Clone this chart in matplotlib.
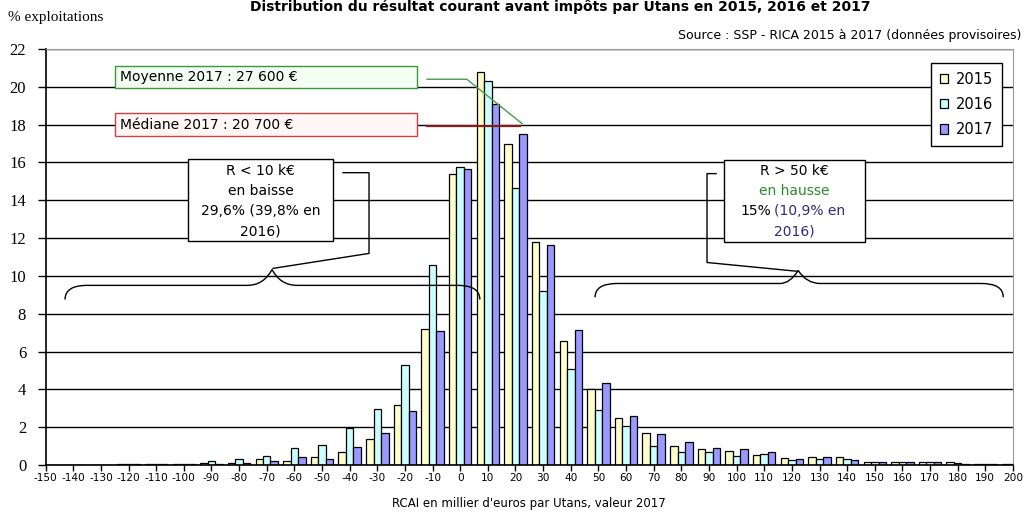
import matplotlib
matplotlib.use("Agg")
import matplotlib.pyplot as plt
import numpy as np
from matplotlib.patches import Rectangle, PathPatch
from matplotlib.path import Path

# Classes de RCAI (milliers d'euros par Utans), une classe tous les 10
categories = list(range(-150, 201, 10))
tick_labels = [str(c) for c in categories]

# % d'exploitations par classe
v2015 = [0, 0, 0, 0.05, 0.05, 0.05, 0.12, 0.12, 0.3, 0.2, 0.45, 0.7, 1.35, 3.2, 7.2,
         15.4, 20.8, 17.0, 11.8, 6.55, 4.0, 2.5, 1.67, 1.0, 0.87, 0.73, 0.55, 0.38,
         0.4, 0.43, 0.15, 0.15, 0.15, 0.15, 0.06, 0.06]
v2016 = [0, 0, 0, 0.05, 0.05, 0.06, 0.2, 0.3, 0.46, 0.9, 1.05, 1.95, 2.95, 5.3, 10.6,
         15.75, 20.3, 14.65, 9.2, 5.1, 2.9, 2.05, 1.03, 0.7, 0.7, 0.46, 0.59, 0.28,
         0.32, 0.32, 0.14, 0.14, 0.15, 0.1, 0.06, 0.06]
v2017 = [0, 0, 0, 0.05, 0.05, 0.05, 0.05, 0.1, 0.2, 0.4, 0.3, 0.95, 1.7, 2.85, 7.1,
         15.65, 19.1, 17.5, 11.65, 7.15, 4.35, 2.58, 1.65, 1.23, 0.9, 0.83, 0.71, 0.32,
         0.43, 0.27, 0.15, 0.15, 0.15, 0.05, 0.06, 0.06]
years = ["2015", "2016", "2017"]
colors = ["#FFFFCC", "#CCFFFF", "#9999FF"]

fig = plt.figure(figsize=(10.31, 5.19), dpi=100)
ax = fig.add_axes([0.0443, 0.104, 0.9382, 0.8016])

x = np.array(categories, dtype=float)
w = 2.7
for i, (vals, col, lab) in enumerate(zip([v2015, v2016, v2017], colors, years)):
    ax.bar(x + (i - 1) * w, vals, w, color=col, edgecolor="black", linewidth=0.9,
           label=lab, zorder=2)

ax.set_xlim(-150, 200)
ax.set_ylim(0, 22)
ax.set_xticks(categories)
ax.set_xticklabels(tick_labels, fontsize=7.6)
ax.set_yticks(range(0, 23, 2))
ax.set_yticklabels([str(v) for v in range(0, 23, 2)], fontsize=12,
                   family="Liberation Serif")
ax.tick_params(axis="y", length=6, width=1, pad=8)
ax.tick_params(axis="x", length=4, width=1, pad=2)
ax.yaxis.grid(True, color="black", linewidth=1)
ax.set_axisbelow(True)
for s in ["top", "right"]:
    ax.spines[s].set_color("#999999")
for s in ["left", "bottom"]:
    ax.spines[s].set_linewidth(1.2)

ax.set_xlabel("RCAI en millier d'euros par Utans, valeur 2017", fontsize=8.5,
              labelpad=10)

fig.text(0.543, 1 - 11 / 519, "Distribution du résultat courant avant impôts par Utans en 2015, 2016 et 2017",
         ha="center", va="baseline", fontsize=10, fontweight="bold")
fig.text(0.008, 1 - 17 / 519, "% exploitations", fontsize=11, family="Liberation Serif",
         va="center", ha="left")
fig.text(0.991, 1 - 35 / 519, "Source : SSP - RICA 2015 à 2017 (données provisoires)",
         fontsize=9, va="center", ha="right")

# Moyenne / médiane
ax.add_patch(Rectangle((-124.9, 19.95), 109.3, 1.15, facecolor="#F4FFF4",
                       edgecolor="#3C963C", linewidth=1, zorder=4))
ax.text(-123, 20.5, "Moyenne 2017 : 27 600 €", fontsize=10, va="center", ha="left", zorder=5)
ax.plot([-12, 2.4, 22.4], [20.4, 20.4, 18.05], color="#4F9A4F", linewidth=1, zorder=5)

ax.add_patch(Rectangle((-124.9, 17.4), 109.3, 1.2, facecolor="#FFF6F6",
                       edgecolor="#D04040", linewidth=1, zorder=4))
ax.text(-123, 18.0, "Médiane 2017 : 20 700 €", fontsize=10, va="center", ha="left", zorder=5)
ax.plot([-12, 21.7], [17.95, 17.95], color="#8B1A1A", linewidth=1.6, zorder=5)


def brace(x0, xa, xp, xb, x1, yend, ybase, ypeak):
    verts = [(x0, yend), (x0, ybase), (x0 + 8, ybase), (xa, ybase),
             (xp - 3, ybase), (xp, ypeak), (xp + 3, ybase), (xb, ybase),
             (x1 - 8, ybase), (x1, ybase), (x1, yend)]
    codes = [Path.MOVETO, Path.CURVE3, Path.CURVE3, Path.LINETO,
             Path.CURVE3, Path.CURVE3, Path.CURVE3, Path.CURVE3,
             Path.LINETO, Path.CURVE3, Path.CURVE3]
    ax.add_patch(PathPatch(Path(verts, codes), facecolor="none", edgecolor="black",
                           linewidth=1, zorder=5))


# Bloc gauche : R < 10 k€
ax.add_patch(Rectangle((-98.5, 11.87), 52.5, 4.33, facecolor="white",
                       edgecolor="black", linewidth=1, zorder=4))
for yy, txt in zip([15.57, 14.51, 13.42, 12.37],
                   ["R < 10 k€", "en baisse", "29,6% (39,8% en", "2016)"]):
    ax.text(-72.3, yy, txt, fontsize=10, ha="center", va="center", zorder=5)
ax.plot([-42.4, -33.0, -33.0, -67.7], [15.46, 15.46, 11.19, 10.4], color="black",
        linewidth=1, zorder=5)
brace(-143.0, -77.1, -68.1, -59.0, 7.1, 8.75, 9.5, 10.34)

# Bloc droit : R > 50 k€
ax.add_patch(Rectangle((95.5, 11.82), 51.0, 4.33, facecolor="white",
                       edgecolor="black", linewidth=1, zorder=4))
ax.text(121, 15.57, "R > 50 k€", fontsize=10, ha="center", va="center", zorder=5)
ax.text(121, 14.51, "en hausse", fontsize=10, ha="center", va="center",
        color="#2E8B2E", zorder=5)
ax.text(112.6, 13.42, "15%", fontsize=10, ha="right", va="center", zorder=5)
ax.text(113.6, 13.42, "(10,9% en", fontsize=10, ha="left", va="center",
        color="#2B2B80", zorder=5)
ax.text(121, 12.37, "2016)", fontsize=10, ha="center", va="center",
        color="#2B2B80", zorder=5)
ax.plot([92.6, 89.3, 89.3, 122.3], [15.41, 15.41, 10.71, 10.24], color="black",
        linewidth=1, zorder=5)
brace(48.8, 115.8, 122.3, 130.2, 196.5, 8.87, 9.6, 10.29)

leg = ax.legend(loc="upper right", bbox_to_anchor=(1001.7 / 1031, 1 - 63 / 519),
                bbox_transform=fig.transFigure, fontsize=10.5, handlelength=0.6,
                handleheight=0.6, handletextpad=0.5, labelspacing=0.7,
                borderpad=0.6, borderaxespad=0, fancybox=False, framealpha=1,
                edgecolor="black")
leg.get_frame().set_linewidth(1)
leg.set_zorder(6)

fig.savefig("out.png", dpi=100)
